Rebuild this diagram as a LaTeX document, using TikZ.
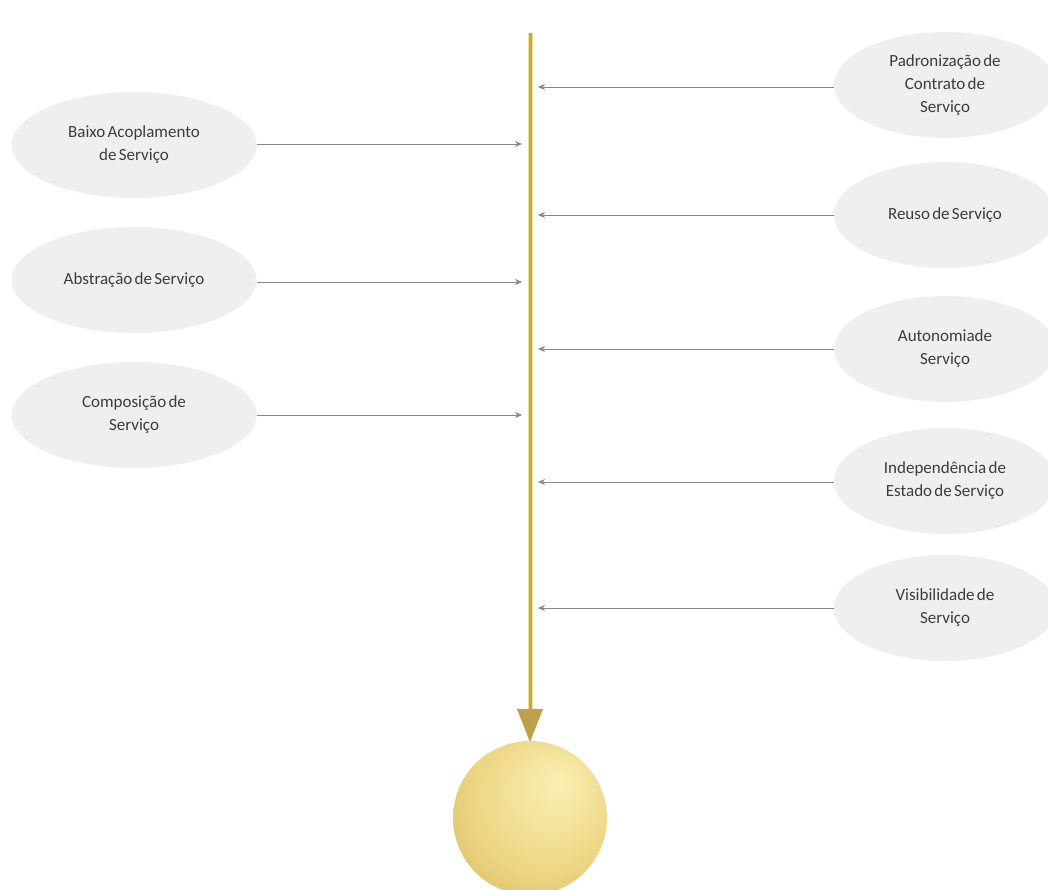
\documentclass[tikz,border=0pt]{standalone}
\usepackage{fontspec}
\setmainfont{Carlito}[WordSpace={0.6}]
\usetikzlibrary{arrows.meta,shapes.geometric}
\definecolor{bubble}{RGB}{239,239,239}
\definecolor{linkgray}{RGB}{135,135,135}
\definecolor{textgray}{RGB}{60,60,60}
\definecolor{goldline}{RGB}{196,166,78}
\definecolor{goldedge}{RGB}{240,225,150}
\definecolor{goldtip}{RGB}{190,160,72}
\definecolor{spherelight}{RGB}{250,238,178}
\definecolor{spheremid}{RGB}{236,214,132}
\definecolor{spheredark}{RGB}{218,188,98}
\pgfdeclareradialshading{goldsphere}{\pgfpoint{10bp}{12bp}}{%
  color(0bp)=(spherelight); color(8bp)=(spherelight!70!spheremid);
  color(24bp)=(spheremid); color(38bp)=(spheredark); color(50bp)=(spheredark)}
\tikzset{
  principle/.style={ellipse, fill=bubble, draw=none, align=center,
    text=textgray, font=\fontsize{17}{23}\selectfont},
  leftbubble/.style={principle, minimum width=245pt, minimum height=106pt, inner sep=0pt},
  rightbubble/.style={principle, minimum width=222pt, minimum height=106pt, inner sep=0pt},
  feed/.style={draw=linkgray, line width=0.9pt,
    -{Stealth[length=7pt,width=6pt]}}
}
\begin{document}
\begin{tikzpicture}[x=1pt,y=-1pt]
\useasboundingbox (0,0) rectangle (1048,890);
\begin{scope}
\clip (0,0) rectangle (1048,890);
% principles on the left
\node[leftbubble] (baixo) at (134,145) {Baixo Acoplamento\\de Serviço};
\node[leftbubble] (abstr) at (134,280) {Abstração de Serviço};
\node[leftbubble] (compo) at (134,415) {Composição de\\Serviço};
% principles on the right
\node[rightbubble] (padr) at (945,85) {Padronização de\\Contrato de\\Serviço};
\node[rightbubble] (reuso) at (945,215) {Reuso de Serviço};
\node[rightbubble] (auton) at (945,349) {Autonomiade\\Serviço};
\node[rightbubble] (indep) at (945,481) {Independência de\\Estado de Serviço};
\node[rightbubble] (visib) at (945,608) {Visibilidade de\\Serviço};
\end{scope}
% central axis
\coordinate (top) at (530,33);
\coordinate (bottom) at (530,742);
\draw[goldedge, line width=5pt] (top) -- (530,712);
\draw[goldline, line width=3pt] (top) -- (530,712);
\fill[goldtip] (517,709) -- (543,709) -- (bottom) -- cycle;
% goal sphere
\node[circle, minimum size=154pt, inner sep=0pt, draw=none,
  shading=goldsphere] (goal) at (530,818) {};
% connectors into the axis
\coordinate (lb) at (522,144);
\coordinate (la) at (522,282);
\coordinate (lc) at (522,415);
\coordinate (rp) at (538,87);
\coordinate (rr) at (538,215);
\coordinate (ra) at (538,349);
\coordinate (ri) at (538,482);
\coordinate (rv) at (538,608);
\draw[feed] (baixo.east |- lb) -- (lb);
\draw[feed] (abstr.east |- la) -- (la);
\draw[feed] (compo.east |- lc) -- (lc);
\draw[feed] (padr.west |- rp) -- (rp);
\draw[feed] (reuso.west |- rr) -- (rr);
\draw[feed] (auton.west |- ra) -- (ra);
\draw[feed] (indep.west |- ri) -- (ri);
\draw[feed] (visib.west |- rv) -- (rv);
\end{tikzpicture}
\end{document}
